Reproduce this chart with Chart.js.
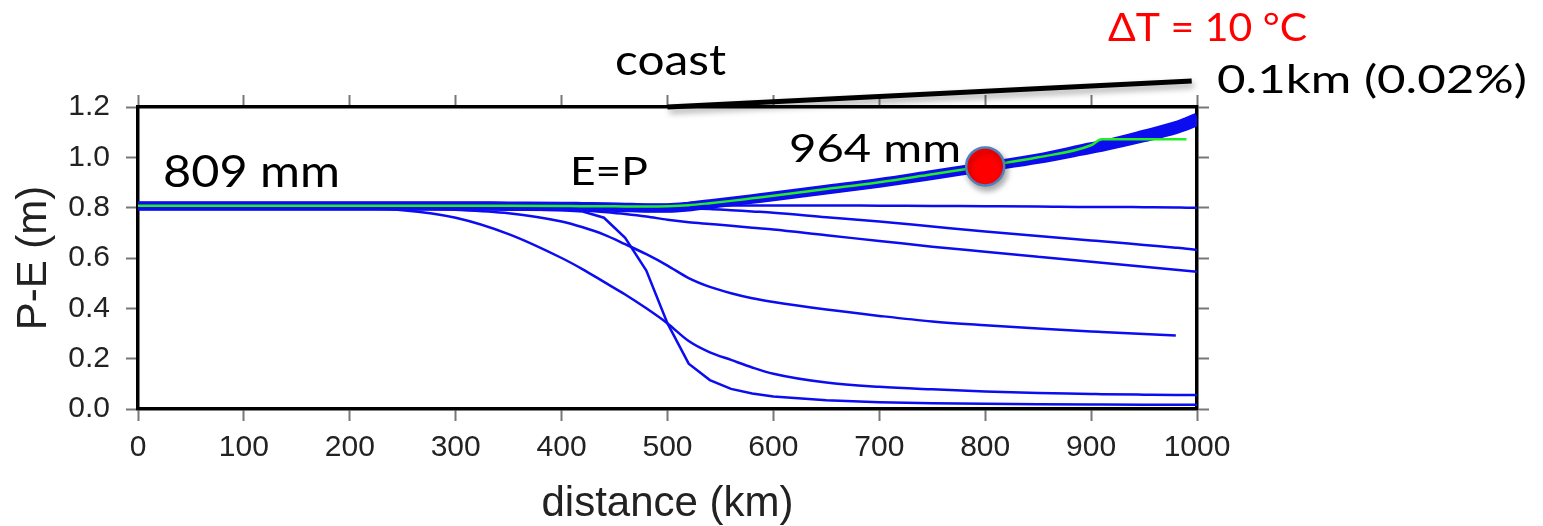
<!DOCTYPE html>
<html>
<head>
<meta charset="utf-8">
<script src="https://cdn.jsdelivr.net/npm/chart.js@4.4.1/dist/chart.umd.min.js"></script>
<style>
  html, body { margin: 0; padding: 0; background: #fff; }
  #wrap { width: 1543px; height: 526px; }
</style>
</head>
<body>
<div id="wrap"><canvas id="chart" width="1543" height="526"></canvas></div>
<script>
// distance from the coast (km), shared by every run
const distanceKm = [0, 100, 200, 250, 300, 350, 400, 420, 440, 460, 480, 500, 520, 540, 560, 580, 600, 650, 700, 750, 800, 850, 900, 910, 950, 980, 990, 1000];

// P-E (m) for each run
const bandRun   = [0.808, 0.808, 0.808, 0.808, 0.808, 0.807, 0.806, 0.805, 0.804, 0.802, 0.800, 0.800, 0.806, 0.816, 0.826, 0.836, 0.846, 0.873, 0.900, 0.932, 0.964, 0.998, 1.042, 1.050, 1.092, 1.126, 1.142, 1.160];
const bandLow   = [0.806, 0.806, 0.806, 0.806, 0.806, 0.805, 0.804, 0.803, 0.802, 0.800, 0.798, 0.798, 0.803, 0.813, 0.823, 0.833, 0.843, 0.870, 0.897, 0.928, 0.960, 0.992, 1.032, 1.040, 1.078, 1.110, 1.124, 1.142];
const greenRun  = [0.808, 0.808, 0.808, 0.808, 0.808, 0.808, 0.807, 0.806, 0.806, 0.805, 0.805, 0.806, 0.810, 0.818, 0.827, 0.837, 0.847, 0.874, 0.901, 0.933, 0.965, 1.000, 1.048, 1.072, 1.072, 1.072, 1.072, null];
const runFlat   = [0.808, 0.808, 0.808, 0.808, 0.808, 0.808, 0.808, 0.807, 0.807, 0.806, 0.806, 0.806, 0.808, 0.809, 0.809, 0.809, 0.809, 0.809, 0.808, 0.807, 0.806, 0.805, 0.803, 0.803, 0.802, 0.801, 0.800, 0.800];
const runSlow   = [0.808, 0.808, 0.808, 0.808, 0.807, 0.806, 0.805, 0.805, 0.804, 0.803, 0.802, 0.800, 0.798, 0.795, 0.790, 0.785, 0.780, 0.762, 0.745, 0.725, 0.705, 0.687, 0.670, 0.667, 0.652, 0.641, 0.637, 0.632];
const runMid    = [0.805, 0.805, 0.805, 0.804, 0.802, 0.800, 0.795, 0.790, 0.783, 0.775, 0.765, 0.752, 0.742, 0.735, 0.728, 0.720, 0.713, 0.690, 0.668, 0.645, 0.625, 0.605, 0.585, 0.581, 0.565, 0.553, 0.549, 0.545];
const runDeep   = [0.800, 0.800, 0.800, 0.798, 0.792, 0.778, 0.745, 0.722, 0.693, 0.655, 0.615, 0.570, 0.520, 0.485, 0.460, 0.440, 0.425, 0.395, 0.370, 0.348, 0.333, 0.320, 0.308, 0.306, 0.298, 0.292, null, null];
const runDeeper = [0.800, 0.800, 0.797, 0.790, 0.760, 0.695, 0.600, 0.555, 0.505, 0.455, 0.400, 0.340, 0.270, 0.225, 0.195, 0.165, 0.140, 0.105, 0.088, 0.078, 0.070, 0.064, 0.060, 0.059, 0.057, 0.056, 0.056, 0.055];
const runSteep  = [0.800, 0.800, 0.800, 0.800, 0.798, 0.795, 0.790, 0.785, 0.760, 0.680, 0.550, 0.340, 0.180, 0.115, 0.080, 0.062, 0.050, 0.035, 0.027, 0.023, 0.021, 0.019, 0.018, 0.018, 0.017, 0.017, 0.017, 0.017];

// topography sketch above the frame and the marked point
const coastKm = [500, 995];
const coastLevel = [1.2, 1.303];
const markerKm = [800];
const markerPE = [0.964];

// tick labels
const distanceTicks = [0, 100, 200, 300, 400, 500, 600, 700, 800, 900, 1000];
const peTicks = [0, 0.2, 0.4, 0.6, 0.8, 1.0, 1.2];

const BLUE = 'rgb(12,12,240)';

function points(xs, ys) {
  return xs.map((x, i) => ({ x, y: ys[i] })).filter(p => p.y !== null);
}

function run(values, extra) {
  return Object.assign({
    data: points(distanceKm, values),
    borderColor: BLUE,
    borderWidth: 2.5,
    pointRadius: 0,
    fill: false,
    cubicInterpolationMode: 'monotone',
    order: 2
  }, extra);
}

// annotation texts (canvas px, baseline-left, stretched to width)
const notes = [
  { text: '809 mm', left: 163, baseline: 187, size: 45, width: 177, color: '#000' },
  { text: 'E=P', left: 570, baseline: 185, size: 39, width: 78, color: '#000' },
  { text: '964 mm', left: 789, baseline: 162, size: 38, width: 172, color: '#000' },
  { text: 'coast', left: 615, baseline: 75, size: 43, width: 111, color: '#000' },
  { text: '\u0394T = 10 \u00b0C', left: 1108, baseline: 41, size: 39, width: 199, color: '#ff0000' },
  { text: '0.1km (0.02%)', left: 1217, baseline: 93, size: 39, width: 310, color: '#000' }
];

const shadowPlugin = {
  id: 'shadows',
  beforeDatasetDraw(chart, args) {
    const ds = chart.data.datasets[args.index];
    if (!ds.shadow) return;
    const ctx = chart.ctx;
    ctx.save();
    ctx.shadowColor = 'rgba(0,0,0,0.35)';
    ctx.shadowBlur = 6;
    ctx.shadowOffsetX = 2;
    ctx.shadowOffsetY = 4;
  },
  afterDatasetDraw(chart, args) {
    const ds = chart.data.datasets[args.index];
    if (ds.shadow) chart.ctx.restore();
  }
};

const notesPlugin = {
  id: 'notes',
  afterDraw(chart) {
    const ctx = chart.ctx;
    notes.forEach(n => {
      ctx.save();
      ctx.font = n.size + 'px Lato';
      ctx.fillStyle = n.color;
      ctx.textBaseline = 'alphabetic';
      ctx.textAlign = 'left';
      const w = ctx.measureText(n.text).width;
      ctx.translate(n.left, n.baseline);
      ctx.scale(n.width / w, 1);
      ctx.fillText(n.text, 0, 0);
      ctx.restore();
    });
  }
};

const tickFont = { family: 'Liberation Sans', size: 30 };
const tickGrid = { drawOnChartArea: false, drawTicks: true, tickLength: 12, tickColor: '#777', tickWidth: 2 };
const frame = { display: true, color: '#000', width: 3.5 };

new Chart(document.getElementById('chart'), {
  type: 'line',
  data: {
    datasets: [
      {
        data: points(coastKm, coastLevel),
        borderColor: '#000', borderWidth: 5, pointRadius: 0,
        borderCapStyle: 'butt', clip: false, shadow: true, order: -2
      },
      {
        data: points(markerKm, markerPE),
        showLine: false, pointRadius: 19, pointHoverRadius: 19,
        pointBackgroundColor: '#ff0000', pointBorderColor: '#4f81bd', pointBorderWidth: 2.5,
        shadow: true, order: -1
      },
      run(greenRun, { borderColor: '#22ee22', borderWidth: 2.5, order: 0 }),
      run(bandRun, { borderWidth: 9, order: 1 }),
      run(bandLow, { borderWidth: 9, order: 1 }),
      run(runFlat),
      run(runSlow),
      run(runMid),
      run(runDeep),
      run(runDeeper),
      run(runSteep, { cubicInterpolationMode: 'default', tension: 0 })
    ]
  },
  options: {
    responsive: false,
    animation: false,
    devicePixelRatio: 1,
    layout: { padding: { top: 107, right: 346, left: 0, bottom: 0 } },
    plugins: { legend: { display: false }, tooltip: { enabled: false } },
    scales: {
      x: {
        type: 'linear', position: 'bottom', min: 0, max: 1000, z: 1,
        afterBuildTicks: s => { s.ticks = distanceTicks.map(v => ({ value: v })); },
        afterFit: s => { s.height = 117; },
        ticks: { font: tickFont, color: '#222', padding: 9, maxRotation: 0, autoSkip: false, callback: v => String(v) },
        grid: tickGrid,
        border: frame,
        title: {
          display: true, text: 'distance (km)', color: '#222',
          font: { family: 'Liberation Sans', size: 42, lineHeight: 1 },
          padding: { top: 0, bottom: 1 }
        }
      },
      y: {
        type: 'linear', position: 'left', min: 0, max: 1.2, z: 1,
        afterBuildTicks: s => { s.ticks = peTicks.map(v => ({ value: v })); },
        afterFit: s => { s.width = 138; },
        ticks: { font: tickFont, color: '#222', padding: 16, callback: v => v.toFixed(1) },
        grid: tickGrid,
        border: frame,
        title: {
          display: true, text: 'P-E (m)', color: '#222',
          font: { family: 'Liberation Sans', size: 42, lineHeight: 1 },
          padding: { top: 13, bottom: 0 }
        }
      },
      x2: {
        type: 'linear', position: 'top', min: 0, max: 1000, z: 1,
        afterBuildTicks: s => { s.ticks = distanceTicks.map(v => ({ value: v })); },
        afterFit: s => { s.height = 0; },
        ticks: { display: false },
        grid: tickGrid,
        border: frame
      },
      y2: {
        type: 'linear', position: 'right', min: 0, max: 1.2, z: 1,
        afterBuildTicks: s => { s.ticks = peTicks.map(v => ({ value: v })); },
        afterFit: s => { s.width = 0; },
        ticks: { display: false },
        grid: tickGrid,
        border: frame
      }
    }
  },
  plugins: [shadowPlugin, notesPlugin]
});
</script>
</body>
</html>
